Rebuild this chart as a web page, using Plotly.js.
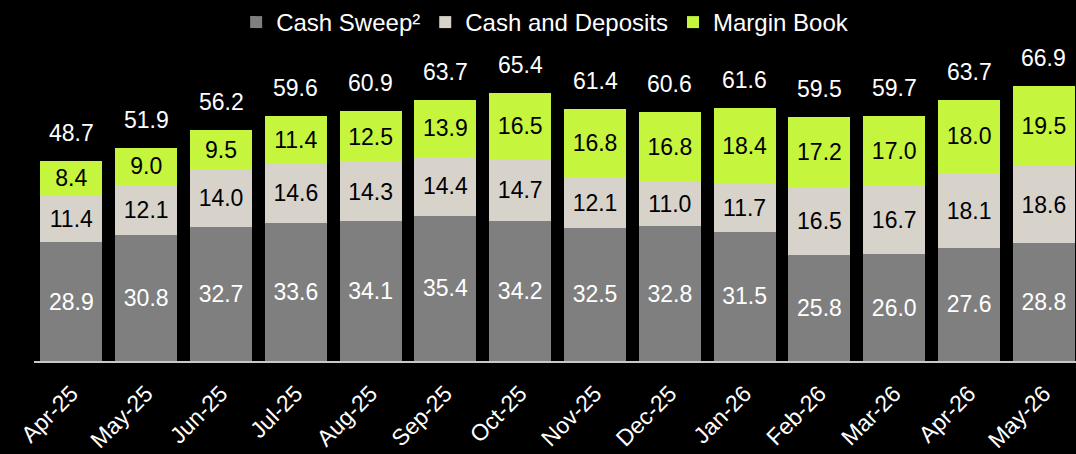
<!DOCTYPE html>
<html><head><meta charset="utf-8">
<script src="https://cdn.plot.ly/plotly-3.0.1.min.js"></script>
<style>html,body{margin:0;padding:0;background:#000;}#chart{width:1076px;height:454px;}</style>
</head><body><div id="chart"></div>
<script>
const categories = ["Apr-25","May-25","Jun-25","Jul-25","Aug-25","Sep-25","Oct-25","Nov-25","Dec-25","Jan-26","Feb-26","Mar-26","Apr-26","May-26"];
const cashSweep = [28.9,30.8,32.7,33.6,34.1,35.4,34.2,32.5,32.8,31.5,25.8,26.0,27.6,28.8];
const cashDeposits = [11.4,12.1,14.0,14.6,14.3,14.4,14.7,12.1,11.0,11.7,16.5,16.7,18.1,18.6];
const marginBook = [8.4,9.0,9.5,11.4,12.5,13.9,16.5,16.8,16.8,18.4,17.2,17.0,18.0,19.5];
const totals = [48.7,51.9,56.2,59.6,60.9,63.7,65.4,61.4,60.6,61.6,59.5,59.7,63.7,66.9];

const FONT = "Liberation Sans, Arial, Helvetica, sans-serif";
function barTrace(name, vals, color, textColor){
  return {
    type:'bar', name:name, x:categories, y:vals,
    marker:{color:color, line:{width:0}},
    text: vals.map(v=>v.toFixed(1)),
    textposition:'inside', insidetextanchor:'middle', textangle:0,
    constraintext:'none',
    textfont:{family:FONT, size:23, color:textColor},
    hoverinfo:'skip'
  };
}
const data = [
  barTrace('Cash Sweep²', cashSweep, '#7f7f7f', '#ffffff'),
  barTrace('Cash and Deposits', cashDeposits, '#d7d3cb', '#000000'),
  barTrace('Margin Book', marginBook, '#c5f53c', '#000000')
];
const annotations = categories.map((c,i)=>({
  x:c, y:totals[i], xref:'x', yref:'y', text:totals[i].toFixed(1),
  showarrow:false, yanchor:'bottom', yshift:13,
  font:{family:FONT, size:23, color:'#ffffff'}
}));
const layout = {
  width:1076, height:454,
  paper_bgcolor:'#000000', plot_bgcolor:'#000000',
  margin:{l:34, r:0, t:40, b:93},
  barmode:'stack', bargap:0.17,
  font:{family:FONT, color:'#ffffff'},
  xaxis:{type:'category', range:[-0.5,13.43], showgrid:false, zeroline:false,
         showline:true, linecolor:'#c8c8c8', linewidth:2, ticks:'',
         tickangle:-45, ticklabelstandoff:8,
         tickfont:{family:FONT, size:23, color:'#ffffff'}},
  yaxis:{range:[0,78.2], visible:false, showgrid:false, zeroline:false},
  showlegend:true,
  legend:{orientation:'h', x:0.194, xanchor:'left', y:1.125, yanchor:'top',
          font:{family:FONT, size:24, color:'#ffffff'}, bgcolor:'rgba(0,0,0,0)',
          traceorder:'normal', itemwidth:30},
  annotations:annotations,
  uniformtext:{mode:'show', minsize:23}
};
Plotly.newPlot('chart', data, layout, {staticPlot:true, displayModeBar:false});
</script></body></html>
